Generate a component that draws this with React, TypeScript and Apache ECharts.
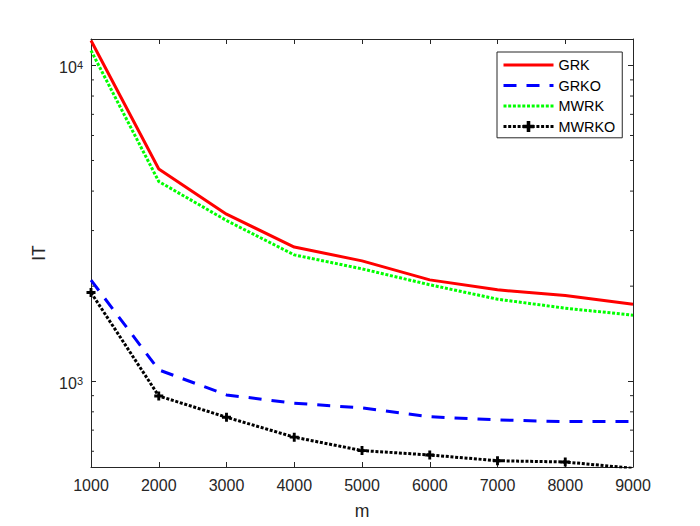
import React, { useEffect, useRef } from "react";
import * as echarts from "echarts";

// ---- data ----
const mValues = [1000, 2000, 3000, 4000, 5000, 6000, 7000, 8000, 9000];
const grk = [12000, 4700, 3380, 2660, 2405, 2094, 1947, 1867, 1754];
const grko = [2090, 1086, 905, 852, 823, 772, 754, 745, 745];
const mwrk = [11150, 4290, 3228, 2512, 2269, 2020, 1819, 1703, 1619];
const mwrko = [1909, 898, 769, 665, 603, 584, 560, 555, 530];
const seriesNames = ["GRK", "GRKO", "MWRK", "MWRKO"];
const xTickValues = [1000, 2000, 3000, 4000, 5000, 6000, 7000, 8000, 9000];
const yMinorTicks = [600, 700, 800, 900, 2000, 3000, 4000, 5000, 6000, 7000, 8000, 9000];
const Y_MIN = 535;
const Y_MAX = 12126;
const X_MIN = 1000;
const X_MAX = 9000;
const X_INTERVAL = 1000;

const AXIS = "#262626";
const FONT = "Liberation Sans, Arial, Helvetica, sans-serif";
const PLUS = "path://M3.4,0H6.6V3.4H10V6.6H6.6V10H3.4V6.6H0V3.4H3.4Z";

function pairs(vals: number[]) {
  return mValues.map((m, i) => [m, vals[i]]);
}

export default function App() {
  const ref = useRef<HTMLDivElement>(null);
  useEffect(() => {
    if (!ref.current) return;
    const chart = echarts.init(ref.current, undefined, { renderer: "svg" });
    const yLabelFormatter = (v: number) => {
      const e = Math.round(Math.log10(v));
      if (Math.abs(Math.pow(10, e) - v) / v > 0.01) return "";
      return `{b|10}{s|${e}}`;
    };
    const option: any = {
      animation: false,
      backgroundColor: "#ffffff",
      textStyle: { fontFamily: FONT },
      grid: { left: 91, right: 67, top: 39, bottom: 59, containLabel: false },
      legend: {
        orient: "vertical",
        left: 497,
        top: 52,
        padding: [6, 7, 4.3, 5],
        itemWidth: 50,
        itemHeight: 14,
        itemGap: 6.5,
        borderColor: AXIS,
        borderWidth: 1,
        backgroundColor: "#ffffff",
        textStyle: { fontSize: 14.4, color: "#000", fontFamily: FONT, lineHeight: 14 },
        lineStyle: { width: 3 },
        data: [
          { name: "GRK", itemStyle: { opacity: 0 } },
          { name: "GRKO", itemStyle: { opacity: 0 } },
          { name: "MWRK", itemStyle: { opacity: 0 } },
          { name: "MWRKO" },
        ],
      },
      xAxis: [
        {
          type: "value",
          min: X_MIN,
          max: X_MAX,
          interval: X_INTERVAL,
          position: "bottom",
          axisLine: { show: true, onZero: false, lineStyle: { color: AXIS, width: 1 } },
          axisTick: { show: true, inside: true, length: 5, lineStyle: { color: AXIS } },
          axisLabel: {
            margin: 10,
            fontSize: 16,
            color: AXIS,
            fontFamily: FONT,
            formatter: (v: number) => (xTickValues.indexOf(v) >= 0 ? String(v) : ""),
          },
          splitLine: { show: false },
          name: "m",
          nameLocation: "middle",
          nameGap: 35,
          nameTextStyle: { fontSize: 17.6, color: AXIS, fontFamily: FONT },
        },
        {
          type: "value",
          min: X_MIN,
          max: X_MAX,
          interval: X_INTERVAL,
          position: "top",
          axisLine: { show: true, onZero: false, lineStyle: { color: AXIS, width: 1 } },
          axisTick: { show: true, inside: true, length: 5, lineStyle: { color: AXIS } },
          axisLabel: { show: false },
          splitLine: { show: false },
        },
      ],
      yAxis: [
        {
          type: "log",
          logBase: 10,
          min: Y_MIN,
          max: Y_MAX,
          position: "left",
          axisLine: { show: true, onZero: false, lineStyle: { color: AXIS, width: 1 } },
          axisTick: { show: true, inside: true, length: 5, lineStyle: { color: AXIS } },
          axisLabel: {
            showMinLabel: false,
            showMaxLabel: false,
            margin: 8,
            padding: [4, 0, 0, 0],
            formatter: yLabelFormatter,
            rich: {
              b: { fontSize: 16, lineHeight: 16, verticalAlign: "bottom", color: AXIS, fontFamily: FONT },
              s: {
                fontSize: 11,
                lineHeight: 11,
                verticalAlign: "top",
                padding: [0, 0, 8, 0],
                color: AXIS,
                fontFamily: FONT,
              },
            },
          },
          splitLine: { show: false },
          name: "IT",
          nameLocation: "middle",
          nameGap: 41,
          nameRotate: 90,
          nameTextStyle: { fontSize: 17.6, color: AXIS, fontFamily: FONT },
        },
        {
          type: "log",
          logBase: 10,
          min: Y_MIN,
          max: Y_MAX,
          position: "right",
          axisLine: { show: true, onZero: false, lineStyle: { color: AXIS, width: 1 } },
          axisTick: { show: true, inside: true, length: 5, lineStyle: { color: AXIS } },
          axisLabel: { show: false },
          splitLine: { show: false },
        },
      ],
      series: [
        {
          name: seriesNames[0],
          type: "line",
          data: pairs(grk),
          symbol: "none",
          lineStyle: { color: "#ff0000", width: 3, type: "solid" },
          itemStyle: { color: "#ff0000" },
          clip: true,
        },
        {
          name: seriesNames[1],
          type: "line",
          data: pairs(grko),
          symbol: "none",
          lineStyle: { color: "#0000ff", width: 3, type: [13, 10] },
          itemStyle: { color: "#0000ff" },
          clip: true,
        },
        {
          name: seriesNames[2],
          type: "line",
          data: pairs(mwrk),
          symbol: "none",
          lineStyle: { color: "#00ff00", width: 3, type: [3, 1.7] },
          itemStyle: { color: "#00ff00" },
          clip: true,
        },
        {
          name: seriesNames[3],
          type: "line",
          data: pairs(mwrko),
          symbol: PLUS,
          symbolSize: 9,
          showSymbol: true,
          lineStyle: { color: "#000000", width: 3, type: [3, 1.7] },
          itemStyle: { color: "#000000" },
          clip: true,
        },
        {
          name: "minorTicks",
          type: "custom",
          silent: true,
          clip: false,
          z: 5,
          data: yMinorTicks.map((v) => [X_MIN, v]),
          renderItem: (params: any, api: any) => {
            const y = api.coord([X_MIN, api.value(1)])[1];
            const cs = params.coordSys;
            return {
              type: "group",
              children: [
                {
                  type: "line",
                  shape: { x1: cs.x, y1: y, x2: cs.x + 3, y2: y },
                  style: { stroke: AXIS, lineWidth: 1 },
                },
                {
                  type: "line",
                  shape: { x1: cs.x + cs.width - 3, y1: y, x2: cs.x + cs.width, y2: y },
                  style: { stroke: AXIS, lineWidth: 1 },
                },
              ],
            };
          },
        },
      ],
    };
    chart.setOption(option);
    return () => chart.dispose();
  }, []);
  return (
    <div
      ref={ref}
      style={{ position: "fixed", left: 0, top: 0, width: 700, height: 526, background: "#fff" }}
    />
  );
}
